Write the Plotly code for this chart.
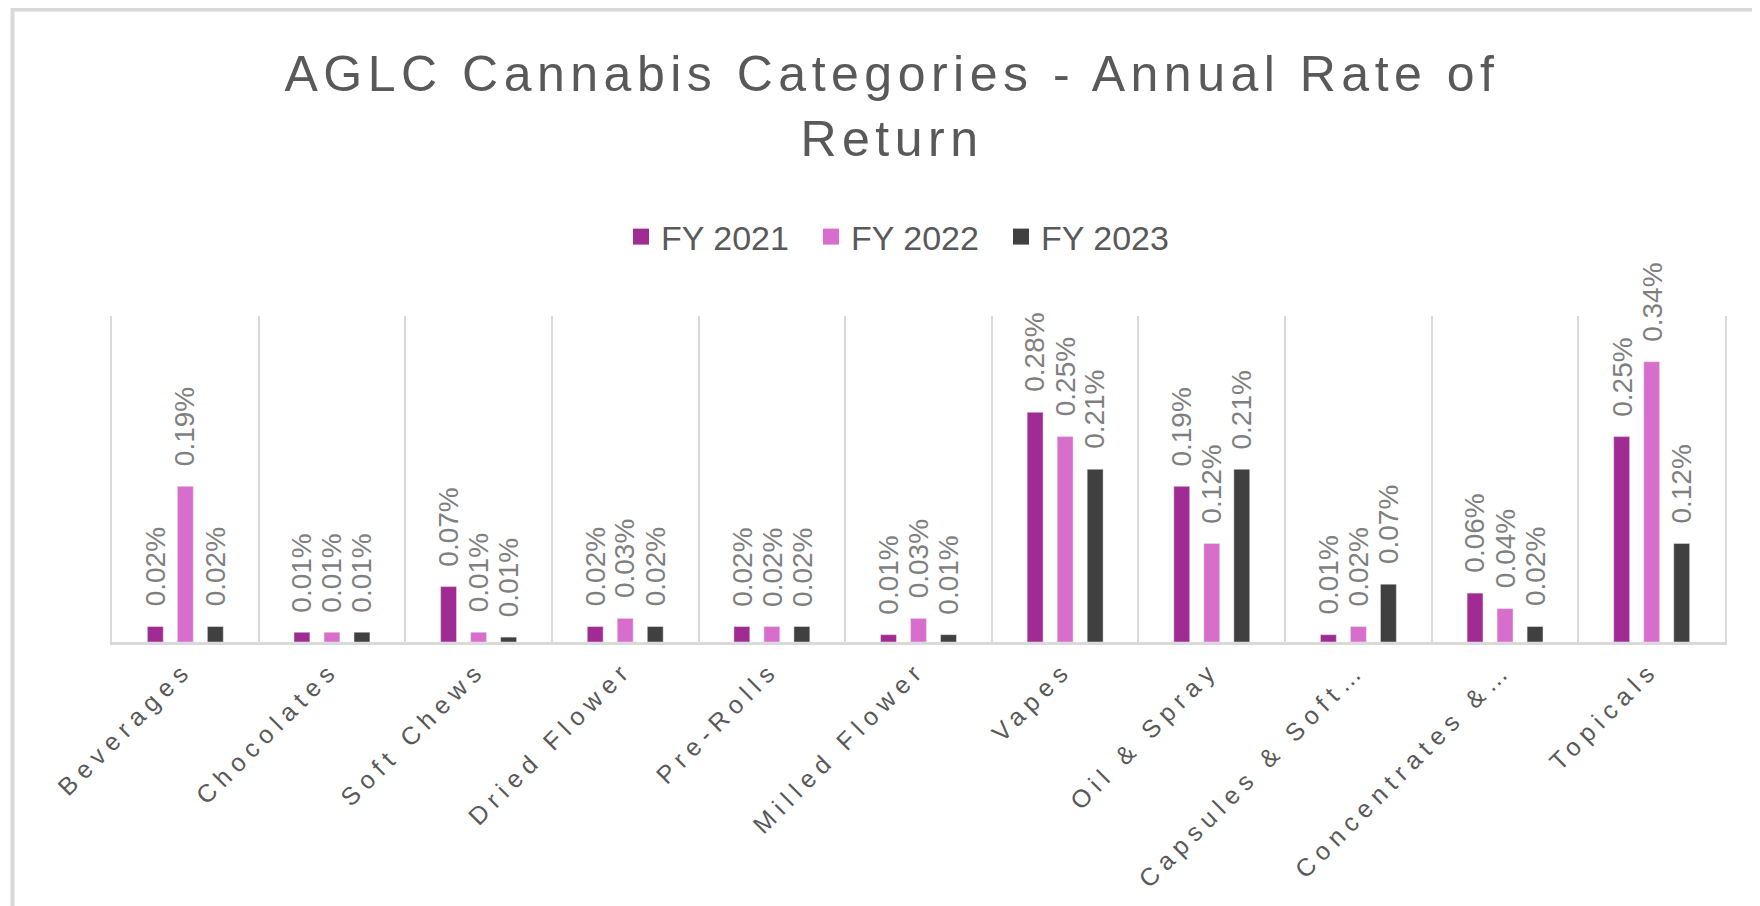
import plotly.graph_objects as go

# data (rate of return, in %)
categories = ["Beverages", "Chocolates", "Soft Chews", "Dried Flower", "Pre-Rolls",
              "Milled Flower", "Vapes", "Oil & Spray", "Capsules & Soft…",
              "Concentrates &…", "Topicals"]
series_names = ["FY 2021", "FY 2022", "FY 2023"]
fy2021 = [0.019, 0.012, 0.068, 0.019, 0.019, 0.009, 0.282, 0.191, 0.009, 0.060, 0.252]
fy2022 = [0.191, 0.012, 0.012, 0.029, 0.019, 0.029, 0.252, 0.121, 0.019, 0.041, 0.344]
fy2023 = [0.019, 0.012, 0.006, 0.019, 0.019, 0.009, 0.212, 0.212, 0.071, 0.019, 0.121]
colors = ["#A02B93", "#D86ECC", "#404040"]

# page has an 8px body margin, so the figure is a bit smaller than the window
W, H = 1752, 898
ML, MR, MT, MB = 104, 35, 308, 264
BARGAP, GROUPGAP = 0.386, 0.47
FONT = "Liberation Sans"
GREY = "#595959"
LINE = "#d9d9d9"


def spaced(txt, px):
    return f'<span style="letter-spacing:{px}px">{txt}</span>'


series = [fy2021, fy2022, fy2023]

fig = go.Figure()
for name, vals, col in zip(series_names, series, colors):
    fig.add_trace(go.Bar(x=categories, y=vals, name=name, marker_color=col,
                         showlegend=False, hoverinfo="x+y+name"))
    # legend entry with a bigger square
    fig.add_trace(go.Scatter(x=[None], y=[None], mode="markers", name=name,
                             marker=dict(symbol="square", size=16, color=col)))

# rotated data labels above each bar
plot_w = W - ML - MR
plot_h = H - MT - MB
slot = plot_w / len(categories) * (1 - BARGAP) / len(series)
annotations = []
for i, vals in enumerate(series):
    for cat, v in zip(categories, vals):
        annotations.append(dict(
            x=cat, y=v, xref="x", yref="y", text=f"{v:.2f}%", textangle=-90,
            showarrow=False, xanchor="center", yanchor="bottom",
            xshift=(i - 1) * slot, yshift=18,
            font=dict(family=FONT, size=28, color="#7f7f7f")))

fig.update_layout(
    width=W, height=H,
    margin=dict(l=ML, r=MR, t=MT, b=MB),
    paper_bgcolor="white", plot_bgcolor="white",
    barmode="group", bargap=BARGAP, bargroupgap=GROUPGAP,
    title=dict(text=spaced("AGLC Cannabis Categories - Annual Rate of", 5.5)
               + "<br>" + spaced("Return", 5.5),
               x=884 / W, xanchor="center", y=1 - 83 / H, yanchor="middle",
               font=dict(family=FONT, size=50, color=GREY)),
    legend=dict(orientation="h", x=(898 - ML) / plot_w, xanchor="center",
                y=(H - MB - 229) / plot_h, yanchor="middle",
                font=dict(family=FONT, size=34, color=GREY),
                entrywidth=145, itemclick=False),
    annotations=annotations,
    shapes=[dict(type="rect", xref="paper", yref="paper", layer="below",
                 x0=(4.5 - ML) / plot_w, x1=(W + 40 - ML) / plot_w,
                 y0=-(MB + 60) / plot_h, y1=(H - MB - 1.5) / plot_h,
                 line=dict(color=LINE, width=4))],
    xaxis=dict(type="category", tickson="boundaries", showgrid=True,
               gridcolor=LINE, gridwidth=2, showline=True,
               linecolor=LINE, linewidth=3, ticks="", tickangle=-45,
               tickvals=categories, automargin=False,
               ticktext=[spaced(c, 6.5) for c in categories],
               ticklabelstandoff=0,
               tickfont=dict(family=FONT, size=25, color=GREY)),
    yaxis=dict(range=[0, 0.4], showticklabels=False, ticks="", showgrid=False,
               zeroline=False, showline=True, mirror=True, linecolor=LINE,
               linewidth=2, automargin=False),
)

fig.write_html("out.html")
